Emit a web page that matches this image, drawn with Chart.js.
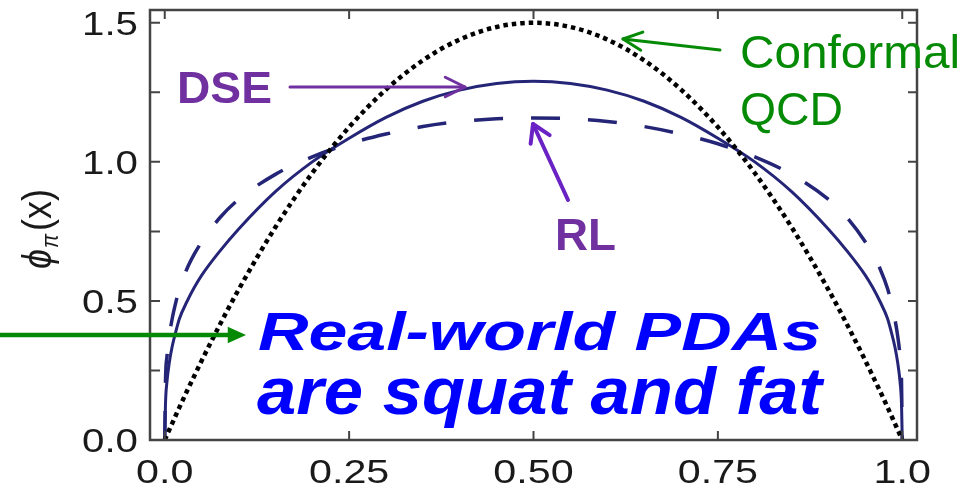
<!DOCTYPE html>
<html>
<head>
<meta charset="utf-8">
<script src="https://cdn.jsdelivr.net/npm/chart.js@4.4.0/dist/chart.umd.min.js"></script>
<style>
  html, body { margin: 0; padding: 0; background: #fff; }
  #wrap { width: 972px; height: 491px; }
</style>
</head>
<body>
<div id="wrap"><canvas id="myChart" width="972" height="491"></canvas></div>
<script>
// Данные (x от 0 до 1)
const xValues = [0, 0.001, 0.003, 0.006, 0.01, 0.015, 0.02, 0.03, 0.04, 0.05, 0.075, 0.1, 0.15, 0.2, 0.25, 0.3, 0.35, 0.4, 0.45, 0.5,
  0.55, 0.6, 0.65, 0.7, 0.75, 0.8, 0.85, 0.9, 0.925, 0.95, 0.96, 0.97, 0.98, 0.985, 0.99, 0.994, 0.997, 0.999, 1];

const conformalQCD = [0, 0.006, 0.018, 0.036, 0.059, 0.089, 0.118, 0.175, 0.23, 0.285, 0.416, 0.54, 0.765, 0.96, 1.125, 1.26, 1.365, 1.44, 1.485, 1.5,
  1.485, 1.44, 1.365, 1.26, 1.125, 0.96, 0.765, 0.54, 0.416, 0.285, 0.23, 0.175, 0.118, 0.089, 0.059, 0.036, 0.018, 0.006, 0];

const dseValues = [0, 0.13, 0.21, 0.275, 0.335, 0.39, 0.437, 0.497, 0.548, 0.592, 0.68, 0.758, 0.893, 1.0, 1.085, 1.16, 1.218, 1.258, 1.282, 1.29,
  1.282, 1.258, 1.218, 1.16, 1.085, 1.0, 0.893, 0.758, 0.68, 0.592, 0.548, 0.497, 0.437, 0.39, 0.335, 0.275, 0.21, 0.13, 0];

const rlValues = [0, 0.21, 0.3, 0.37, 0.435, 0.495, 0.545, 0.615, 0.668, 0.712, 0.8, 0.865, 0.955, 1.018, 1.065, 1.1, 1.127, 1.145, 1.155, 1.158,
  1.155, 1.145, 1.127, 1.1, 1.065, 1.018, 0.955, 0.865, 0.8, 0.712, 0.668, 0.615, 0.545, 0.495, 0.435, 0.37, 0.3, 0.21, 0];

// Подписи осей
const xTickValues = [0, 0.25, 0.5, 0.75, 1];
const xTickLabels = ["0.0", "0.25", "0.50", "0.75", "1.0"];
const yTickValues = [0, 0.25, 0.5, 0.75, 1, 1.25, 1.5];
const yLabelValues = [0, 0.5, 1, 1.5];
const yTickLabels = ["0.0", "0.5", "1.0", "1.5"];

const navy = "#252578";
const purple = "#7030a0";
const green = "#058a05";
const blue = "#0000ff";

function toPoints(values) {
  return xValues.map((x, i) => ({ x: x, y: values[i] }));
}

// Текст с растяжкой по горизонтали
function drawText(ctx, text, x, y, opts) {
  ctx.save();
  ctx.font = opts.font;
  ctx.fillStyle = opts.color;
  ctx.textBaseline = opts.baseline || "alphabetic";
  ctx.textAlign = "left";
  const w = ctx.measureText(text).width;
  const sx = opts.width ? opts.width / w : opts.sx || 1;
  let left = x;
  if (opts.align === "center") left = x - (w * sx) / 2;
  if (opts.align === "right") left = x - w * sx;
  ctx.translate(left, y);
  ctx.scale(sx, 1);
  ctx.fillText(text, 0, 0);
  ctx.restore();
}

function drawArrow(ctx, x1, y1, x2, y2, color, width, len, ang, filled) {
  const a = Math.atan2(y2 - y1, x2 - x1);
  ctx.save();
  ctx.strokeStyle = color;
  ctx.fillStyle = color;
  ctx.lineWidth = width;
  ctx.lineCap = "round";
  ctx.lineJoin = "round";
  const ax = x2 - len * Math.cos(a - ang), ay = y2 - len * Math.sin(a - ang);
  const bx = x2 - len * Math.cos(a + ang), by = y2 - len * Math.sin(a + ang);
  ctx.beginPath();
  ctx.moveTo(x1, y1);
  if (filled) ctx.lineTo(x2 - len * Math.cos(a) * 0.9, y2 - len * Math.sin(a) * 0.9);
  else ctx.lineTo(x2, y2);
  ctx.stroke();
  ctx.beginPath();
  if (filled) {
    ctx.moveTo(x2, y2);
    ctx.lineTo(ax, ay);
    ctx.lineTo(bx, by);
    ctx.closePath();
    ctx.fill();
  } else {
    ctx.moveTo(ax, ay);
    ctx.lineTo(x2, y2);
    ctx.lineTo(bx, by);
    ctx.stroke();
  }
  ctx.restore();
}

// Рамка, внутренние засечки, подписи и стрелки
const decorPlugin = {
  id: "decor",
  afterDraw(chart) {
    const ctx = chart.ctx;
    const area = chart.chartArea;
    const xs = chart.scales.x;
    const ys = chart.scales.y;
    ctx.save();
    ctx.strokeStyle = "#444";
    ctx.lineWidth = 2.5;
    ctx.strokeRect(area.left, area.top, area.right - area.left, area.bottom - area.top);

    ctx.lineWidth = 2;
    ctx.beginPath();
    xTickValues.forEach((v) => {
      const px = xs.getPixelForValue(v);
      ctx.moveTo(px, area.bottom);
      ctx.lineTo(px, area.bottom - 9);
      ctx.moveTo(px, area.top);
      ctx.lineTo(px, area.top + 9);
    });
    yTickValues.forEach((v) => {
      const py = ys.getPixelForValue(v);
      ctx.moveTo(area.left, py);
      ctx.lineTo(area.left + 10, py);
      ctx.moveTo(area.right, py);
      ctx.lineTo(area.right - 9, py);
    });
    ctx.stroke();
    ctx.restore();

    const tickFont = '33px "Liberation Sans", Arial, sans-serif';
    xTickValues.forEach((v, i) => {
      drawText(ctx, xTickLabels[i], xs.getPixelForValue(v), 483, { font: tickFont, color: "#1a1a1a", align: "center", sx: 1.25 });
    });
    yLabelValues.forEach((v, i) => {
      drawText(ctx, yTickLabels[i], 138, ys.getPixelForValue(v) + 12, { font: tickFont, color: "#1a1a1a", align: "right", sx: 1.22 });
    });

    // Подпись оси Y: φπ(x)
    ctx.save();
    ctx.translate(51, 269);
    ctx.rotate(-Math.PI / 2);
    ctx.scale(1, 1.15);
    ctx.fillStyle = "#1a1a1a";
    ctx.textBaseline = "alphabetic";
    ctx.font = 'italic 36px "Liberation Sans", Arial, sans-serif';
    ctx.fillText("\u03d5", 0, 0);
    let off = ctx.measureText("\u03d5").width + 1;
    ctx.font = 'italic 21px "Liberation Sans", Arial, sans-serif';
    ctx.fillText("\u03c0", off, 6);
    off += ctx.measureText("\u03c0").width + 3;
    ctx.font = '36px "Liberation Sans", Arial, sans-serif';
    ctx.fillText("(x)", off, 0);
    ctx.restore();

    // Надписи
    const bold = 'bold 45px "Liberation Sans", Arial, sans-serif';
    drawText(ctx, "DSE", 177, 103, { font: bold, color: purple, width: 95 });
    drawText(ctx, "RL", 555, 250, { font: bold, color: purple, width: 61 });
    const reg = '46px "Liberation Sans", Arial, sans-serif';
    drawText(ctx, "Conformal", 740, 68, { font: reg, color: green, width: 220 });
    drawText(ctx, "QCD", 740, 125, { font: reg, color: green, width: 103 });
    drawText(ctx, "Real-world PDAs", 258, 350, { font: 'italic bold 54px "Liberation Sans", Arial, sans-serif', color: blue, width: 563 });
    drawText(ctx, "are squat and fat", 257, 414, { font: 'italic bold 66px "Liberation Sans", Arial, sans-serif', color: blue, width: 565 });

    drawArrow(ctx, 290, 87, 465, 87, purple, 3, 22, 0.46, false);
    drawArrow(ctx, 568, 200, 533, 124, "#6a22c4", 4, 20, 0.55, false);
    drawArrow(ctx, 720, 50, 623, 39, green, 3, 21, 0.45, false);
    drawArrow(ctx, -5, 335, 246, 335, green, 4.5, 20, 0.42, true);
  },
};

const config = {
  type: "line",
  data: {
    datasets: [
      {
        label: "Conformal QCD",
        data: toPoints(conformalQCD),
        borderColor: "#000",
        borderWidth: 4.5,
        borderDash: [4.5, 4],
        borderCapStyle: "butt",
        pointRadius: 0,
        tension: 0.4,
        cubicInterpolationMode: "monotone",
      },
      {
        label: "DSE",
        data: toPoints(dseValues),
        borderColor: navy,
        borderWidth: 3,
        pointRadius: 0,
        tension: 0.4,
        cubicInterpolationMode: "monotone",
      },
      {
        label: "RL",
        data: toPoints(rlValues),
        borderColor: navy,
        borderWidth: 3.5,
        borderDash: [29, 28],
        borderCapStyle: "butt",
        pointRadius: 0,
        tension: 0.4,
        cubicInterpolationMode: "monotone",
      },
    ],
  },
  options: {
    responsive: false,
    animation: false,
    devicePixelRatio: 1,
    layout: { padding: { left: 150, right: 55, top: 10, bottom: 51 } },
    scales: {
      x: { type: "linear", min: -0.02, max: 1.02, display: false },
      y: { type: "linear", min: 0, max: 1.546, display: false },
    },
    plugins: {
      legend: { display: false },
      tooltip: { enabled: false },
    },
  },
  plugins: [decorPlugin],
};

const myChart = new Chart(document.getElementById("myChart"), config);
</script>
</body>
</html>
